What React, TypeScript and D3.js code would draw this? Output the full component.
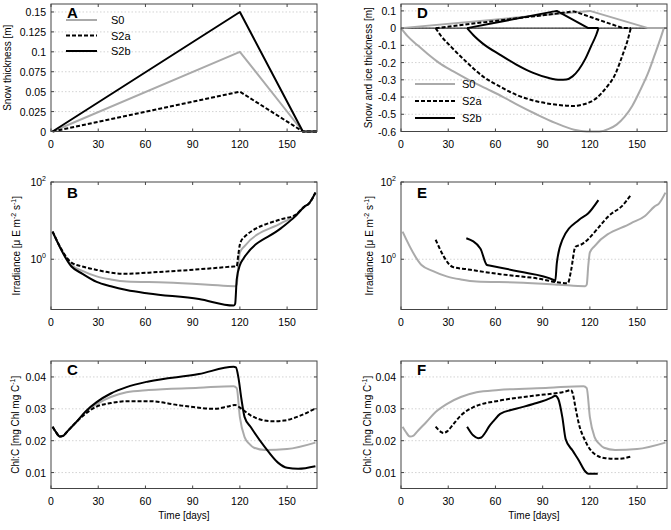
import React from 'react';
import * as d3 from 'd3';

type P = [number, number];

// ---------- tick labels ----------
const xTicks = [0, 30, 60, 90, 120, 150];
const snowTicks = [0, 0.025, 0.05, 0.075, 0.1, 0.125, 0.15];
const snowIceTicks = [0.1, 0, -0.1, -0.2, -0.3, -0.4, -0.5, -0.6];
const irrTicks = [1, 100];
const chlTicks = [0.01, 0.02, 0.03, 0.04];
const seriesNames = ['S0', 'S2a', 'S2b'];

// ---------- Panel A: snow thickness [m] ----------
const A_S0: P[] = [[1, 0], [120, 0.1], [160, 0], [169, 0]];
const A_S2a: P[] = [[1, 0], [120, 0.05], [160, 0], [169, 0]];
const A_S2b: P[] = [[1, 0], [120, 0.15], [160, 0], [169, 0]];

// ---------- Panel D: snow (top) and ice (bottom) thickness [m] ----------
const D_S0_snow: P[] = [[0, 0], [120, 0.1], [157, 0], [169, 0]];
const D_S2a_snow: P[] = [[22, 0], [110, 0.097], [141, 0], [146, 0]];
const D_S2b_snow: P[] = [[42, 0], [99, 0.1], [119, 0], [125.5, 0]];
const D_S0_ice: P[] = [[0, 0], [4, -0.045], [10.6, -0.1], [17, -0.15], [24, -0.2], [33, -0.25], [43, -0.3], [54, -0.35], [65, -0.4], [75, -0.45], [86, -0.5], [98, -0.55], [110, -0.59], [118, -0.6], [126, -0.6], [132, -0.585], [137, -0.56], [142, -0.515], [147, -0.45], [152, -0.36], [157, -0.26], [161, -0.16], [164.5, -0.07], [167, 0]];
const D_S2a_ice: P[] = [[22, 0], [25, -0.04], [32, -0.11], [42, -0.2], [52, -0.28], [63, -0.34], [74, -0.39], [84, -0.42], [95, -0.44], [105, -0.45], [110, -0.452], [115, -0.445], [120, -0.43], [125, -0.4], [130, -0.35], [136, -0.27], [141, -0.15], [144, -0.07], [146, 0]];
const D_S2b_ice: P[] = [[42, 0], [47, -0.05], [52, -0.09], [63, -0.155], [73, -0.21], [84, -0.26], [94, -0.29], [101, -0.3], [105, -0.298], [109, -0.28], [113, -0.24], [117, -0.18], [121, -0.1], [124, -0.04], [125.5, 0]];

// ---------- Panel B / E: irradiance ----------
const B_S0: P[] = [[1, 5.2], [13, 0.71], [20, 0.5], [29, 0.36], [38, 0.3], [48, 0.265], [73, 0.25], [100, 0.22], [117, 0.2], [118, 0.22], [119, 0.7], [120, 1.5], [123, 2.2], [146, 8.5], [155, 13.2], [161, 23], [164, 28], [168, 53]];
const B_S2a: P[] = [[1, 5.2], [13, 0.82], [20, 0.65], [29, 0.53], [38, 0.45], [48, 0.42], [62, 0.45], [94, 0.55], [116, 0.65], [118, 0.66], [119, 1.3], [120, 2.4], [122, 3.5], [146, 10.8], [155, 13.8], [161, 23], [164, 28], [168, 53]];
const B_S2b: P[] = [[1, 5.2], [13, 0.65], [20, 0.42], [29, 0.26], [38, 0.2], [48, 0.16], [62, 0.13], [94, 0.093], [116, 0.063], [117, 0.07], [118, 0.3], [120, 0.7], [122, 1.0], [146, 6.3], [155, 12.7], [161, 23], [164, 28], [168, 53]];
const E_S2a: P[] = [[22, 3.2], [33, 0.63], [42, 0.55], [63, 0.41], [84, 0.33], [106, 0.24], [108, 0.5], [110.8, 2.1], [114, 2.35], [134, 15.5], [140, 23], [146, 46]];
const E_S2b: P[] = [[41.5, 3.5], [50.4, 1.9], [54.6, 0.71], [57, 0.68], [75, 0.48], [97, 0.29], [98, 0.27], [99, 0.79], [102.5, 3.16], [113, 10.4], [119, 15.5], [125.4, 34]];

// ---------- Panel C / F: Chl:C ----------
const C_S0: P[] = [[1, 0.0244], [3, 0.0228], [5.7, 0.0213], [8, 0.0216], [10, 0.0227], [16, 0.0258], [22, 0.029], [29, 0.0315], [38, 0.0337], [48, 0.0352], [62, 0.0359], [94, 0.0366], [116, 0.0371], [118, 0.0365], [120, 0.0274], [123, 0.0211], [126, 0.019], [129, 0.0178], [136, 0.0171], [150, 0.0174], [168, 0.0194]];
const C_S2a: P[] = [[1, 0.0244], [3, 0.0228], [5.7, 0.0213], [8, 0.0216], [10, 0.0227], [16, 0.0258], [22, 0.0285], [29, 0.0307], [38, 0.0318], [48, 0.0324], [62, 0.0324], [83, 0.031], [104, 0.03], [112, 0.0307], [117, 0.0312], [121, 0.03], [127, 0.0279], [134, 0.0265], [140, 0.0261], [148, 0.0263], [158, 0.0278], [168, 0.0301]];
const C_S2b: P[] = [[1, 0.0244], [3, 0.0228], [5.7, 0.0213], [8, 0.0216], [10, 0.0227], [16, 0.0258], [22, 0.0292], [29, 0.0321], [38, 0.0348], [48, 0.0368], [62, 0.0386], [94, 0.0409], [116, 0.0432], [117.5, 0.043], [119, 0.04], [121, 0.033], [123, 0.0274], [127, 0.0242], [136, 0.0179], [144, 0.0132], [150, 0.0115], [157, 0.0112], [168, 0.012]];
const F_S2a: P[] = [[22, 0.0244], [25.5, 0.0227], [27, 0.0224], [29.5, 0.023], [33, 0.025], [38, 0.0279], [46, 0.0305], [63, 0.0326], [84, 0.0341], [105, 0.0355], [108, 0.0359], [109, 0.035], [111, 0.03], [113, 0.0253], [117, 0.02], [123, 0.0158], [130, 0.0145], [138, 0.0143], [146, 0.015]];
const F_S2b: P[] = [[42, 0.0244], [46, 0.0216], [49, 0.0208], [51, 0.021], [53.5, 0.0225], [56, 0.0245], [59, 0.0263], [63, 0.0284], [73, 0.03], [84, 0.0315], [96, 0.0336], [98, 0.0341], [100, 0.033], [102.5, 0.0274], [104.6, 0.0205], [109, 0.0169], [113, 0.0138], [117, 0.0104], [119, 0.0096], [125, 0.0096]];

// ---------- styles ----------
const FONT = "'Liberation Sans', Arial, Helvetica, sans-serif";
const GREY = '#aaaaaa';
const AXIS = '#444444';
type Style = { stroke: string; dash?: string };
const STY: Style[] = [
  { stroke: GREY },
  { stroke: '#000', dash: '4,2' },
  { stroke: '#000' },
];

const W = 266;
const H = 127.5;
const COLX = [51, 401];
const ROWY = [4, 182, 361];

type Line = { data: P[]; style: Style; curve?: 'lin' | 'mono' };

function Panel(props: {
  x0: number; y0: number; letter: string; letterDy: number;
  y: any; yTicks: number[]; yFmt: (v: number) => React.ReactNode;
  gridVals: number[]; lines: Line[]; ylabel: React.ReactNode; ylabelX: number;
  zeroLine?: boolean; xlabel?: boolean;
}) {
  const { x0, y0, y } = props;
  const x = d3.scaleLinear().domain([0, 169]).range([x0, x0 + W]);
  return (
    <g>
      {props.gridVals.map((v, i) => (
        <line key={'g' + i} x1={x0} x2={x0 + W} y1={y(v)} y2={y(v)} stroke="#c8c8c8" strokeWidth={0.8} strokeDasharray="1.5,2" />
      ))}
      {props.zeroLine && <line x1={x0} x2={x0 + W} y1={y(0)} y2={y(0)} stroke="#000" strokeWidth={1} />}
      {props.lines.map((l, i) => {
        const gen = d3.line<P>().x(d => x(d[0])).y(d => y(d[1])).curve(l.curve === 'mono' ? d3.curveMonotoneX : d3.curveLinear);
        return <path key={'l' + i} d={gen(l.data) || ''} fill="none" stroke={l.style.stroke} strokeWidth={2} strokeDasharray={l.style.dash} strokeLinejoin="round" />;
      })}
      <rect x={x0} y={y0} width={W} height={H} fill="none" stroke={AXIS} strokeWidth={1} />
      {xTicks.map(t => (
        <g key={'xt' + t}>
          <line x1={x(t)} x2={x(t)} y1={y0 + H} y2={y0 + H - 3} stroke={AXIS} />
          <line x1={x(t)} x2={x(t)} y1={y0} y2={y0 + 3} stroke={AXIS} />
          <text x={x(t)} y={y0 + H + 16} textAnchor="middle" fontSize={10.5} fontFamily={FONT} fill="#000">{t}</text>
        </g>
      ))}
      {props.yTicks.map((t, i) => (
        <g key={'yt' + i}>
          <line x1={x0} x2={x0 + 3} y1={y(t)} y2={y(t)} stroke={AXIS} />
          <line x1={x0 + W} x2={x0 + W - 3} y1={y(t)} y2={y(t)} stroke={AXIS} />
          <text x={x0 - 5} y={y(t) + 4} textAnchor="end" fontSize={10.5} fontFamily={FONT} fill="#000">{props.yFmt(t)}</text>
        </g>
      ))}
      <text x={x0 + 16} y={y0 + props.letterDy} fontSize={15} fontWeight="bold" fontFamily={FONT} fill="#000">{props.letter}</text>
      <text transform={`translate(${props.ylabelX},${y0 + H / 2}) rotate(-90)`} textAnchor="middle" fontSize={10} fontFamily={FONT} fill="#000">{props.ylabel}</text>
      {props.xlabel && (
        <text x={x0 + W / 2} y={y0 + H + 30} textAnchor="middle" fontSize={10} fontFamily={FONT} fill="#000">Time [days]</text>
      )}
    </g>
  );
}

function Legend({ x, y, dy, len, gap }: { x: number; y: number; dy: number; len: number; gap: number }) {
  return (
    <g>
      {seriesNames.map((n, i) => (
        <g key={n}>
          <line x1={x} x2={x + len} y1={y + i * dy} y2={y + i * dy} stroke={STY[i].stroke} strokeWidth={2} strokeDasharray={STY[i].dash} />
          <text x={x + len + gap} y={y + i * dy + 4} fontSize={11} fontFamily={FONT} fill="#000">{n}</text>
        </g>
      ))}
    </g>
  );
}

const fmtNum = (v: number) => String(+v.toFixed(3));
const fmtPow = (v: number) => (
  <>10<tspan dy={-5} fontSize={7}>{Math.round(Math.log10(v))}</tspan></>
);

const irrLabel = (
  <>Irradiance [μ E m<tspan dy={-4} fontSize={7}>-2</tspan><tspan dy={4}> s</tspan><tspan dy={-4} fontSize={7}>-1</tspan><tspan dy={4}>]</tspan></>
);
const chlLabel = (
  <>Chl:C [mg Chl mg C<tspan dy={-4} fontSize={7}>-1</tspan><tspan dy={4}>]</tspan></>
);

export default function App() {
  const yA = d3.scaleLinear().domain([0, 0.16]).range([ROWY[0] + H, ROWY[0]]);
  const yD = d3.scaleLinear().domain([-0.6, 0.14]).range([ROWY[0] + H, ROWY[0]]);
  const yB = d3.scaleLog().domain([0.05, 100]).range([ROWY[1] + H, ROWY[1]]);
  const yC = d3.scaleLinear().domain([0.005, 0.045]).range([ROWY[2] + H, ROWY[2]]);

  return (
    <svg width={671} height={530} style={{ display: 'block', position: 'absolute', left: 0, top: 0 }}>
      <Panel x0={COLX[0]} y0={ROWY[0]} letter="A" letterDy={13.5} y={yA} yTicks={snowTicks} yFmt={fmtNum}
        gridVals={snowTicks.slice(1)} ylabel="Snow thickness [m]" ylabelX={11}
        lines={[{ data: A_S0, style: STY[0] }, { data: A_S2a, style: STY[1] }, { data: A_S2b, style: STY[2] }]} />
      <Legend x={66} y={20} dy={15.5} len={31} gap={14} />

      <Panel x0={COLX[1]} y0={ROWY[0]} letter="D" letterDy={14} y={yD} yTicks={snowIceTicks} yFmt={fmtNum}
        gridVals={snowIceTicks} ylabel="Snow and ice thickness [m]" ylabelX={372} zeroLine
        lines={[
          { data: D_S0_snow, style: STY[0] }, { data: D_S0_ice, style: STY[0], curve: 'mono' },
          { data: D_S2a_snow, style: STY[1] }, { data: D_S2a_ice, style: STY[1], curve: 'mono' },
          { data: D_S2b_snow, style: STY[2] }, { data: D_S2b_ice, style: STY[2], curve: 'mono' },
        ]} />
      <Legend x={415} y={84} dy={17} len={40} gap={7} />

      <Panel x0={COLX[0]} y0={ROWY[1]} letter="B" letterDy={16} y={yB} yTicks={irrTicks} yFmt={fmtPow}
        gridVals={[1]} ylabel={irrLabel} ylabelX={20}
        lines={[{ data: B_S0, style: STY[0], curve: 'mono' }, { data: B_S2a, style: STY[1], curve: 'mono' }, { data: B_S2b, style: STY[2], curve: 'mono' }]} />
      <Panel x0={COLX[1]} y0={ROWY[1]} letter="E" letterDy={16} y={yB} yTicks={irrTicks} yFmt={fmtPow}
        gridVals={[1]} ylabel={irrLabel} ylabelX={373}
        lines={[{ data: B_S0, style: STY[0], curve: 'mono' }, { data: E_S2a, style: STY[1], curve: 'mono' }, { data: E_S2b, style: STY[2], curve: 'mono' }]} />

      <Panel x0={COLX[0]} y0={ROWY[2]} letter="C" letterDy={14} y={yC} yTicks={chlTicks} yFmt={fmtNum}
        gridVals={chlTicks} ylabel={chlLabel} ylabelX={19} xlabel
        lines={[{ data: C_S0, style: STY[0], curve: 'mono' }, { data: C_S2a, style: STY[1], curve: 'mono' }, { data: C_S2b, style: STY[2], curve: 'mono' }]} />
      <Panel x0={COLX[1]} y0={ROWY[2]} letter="F" letterDy={14} y={yC} yTicks={chlTicks} yFmt={fmtNum}
        gridVals={chlTicks} ylabel={chlLabel} ylabelX={371} xlabel
        lines={[{ data: C_S0, style: STY[0], curve: 'mono' }, { data: F_S2a, style: STY[1], curve: 'mono' }, { data: F_S2b, style: STY[2], curve: 'mono' }]} />
    </svg>
  );
}
